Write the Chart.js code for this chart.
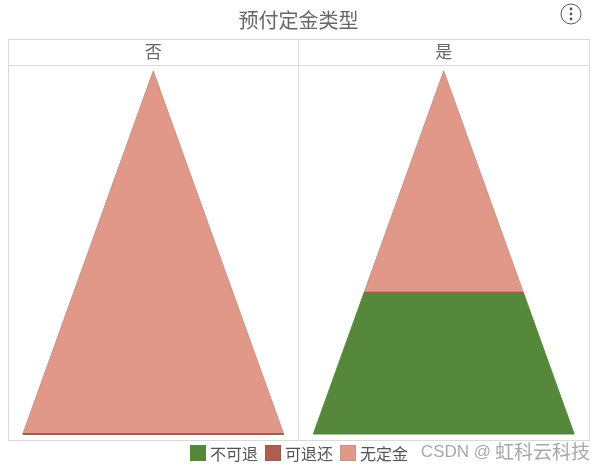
<!DOCTYPE html>
<html>
<head>
<meta charset="utf-8">
<title>预付定金类型</title>
<script src="https://cdn.jsdelivr.net/npm/chart.js@4"></script>
<style>
    html, body { margin: 0; padding: 0; background: #fff; }
    #wrap { position: relative; width: 606px; height: 470px; }
    canvas { display: block; }
    #legend {
        position: absolute; left: 190px; top: 445px; display: flex;
        font: 16px/16px "Noto Sans CJK SC", "Noto Sans", sans-serif; color: #555;
    }
    #legend span.item { display: flex; margin-right: 7px; }
    #legend i { display: block; box-sizing: border-box; width: 16px; height: 16px; margin-right: 4px; border: 1px solid; }
</style>
</head>
<body>
<div id="wrap">
    <canvas id="chart" width="606" height="470"></canvas>
    <div id="legend"></div>
</div>
<script>
// data, stacked from the base of each pyramid upwards
const panels = ['否', '是'];
const seriesNames = ['不可退', '可退还', '无定金'];
const noRefund = [0, 39];
const refundable = [0, 0];
const noDeposit = [100, 61];

const fillColors = ['#55883b', '#ae5e4d', '#e19888'];
const edgeColors = ['#55883b', '#a0584a', '#c4958a'];
const gridColor = '#d9d9d9';
const FONT = '"Noto Sans CJK SC", "Noto Sans", sans-serif';

const allSeries = [noRefund, refundable, noDeposit];
const halfBase = 0.449;

// one closed trapezoid per series per panel, narrowing with the running total
const datasets = [];
panels.forEach(function (panel, p) {
    let below = 0;
    allSeries.forEach(function (values, s) {
        const above = below + values[p];
        const center = p + 0.5;
        const wBottom = halfBase * (1 - below / 100);
        const wTop = halfBase * (1 - above / 100);
        datasets.push({
            label: seriesNames[s],
            data: [
                { x: center - wBottom, y: below },
                { x: center + wBottom, y: below },
                { x: center + wTop, y: above },
                { x: center - wTop, y: above },
                { x: center - wBottom, y: below }
            ],
            showLine: true,
            fill: 'shape',
            tension: 0,
            pointRadius: 0,
            borderWidth: 1,
            borderColor: edgeColors[s],
            backgroundColor: fillColors[s],
            order: s === 1 ? 0 : 1 // the flat 可退还 band stays visible on top
        });
        below = above;
    });
});

// html legend, the built-in one can't get the box and text this close
const legendDiv = document.getElementById('legend');
seriesNames.forEach(function (name, s) {
    const item = document.createElement('span');
    item.className = 'item';
    const box = document.createElement('i');
    box.style.background = fillColors[s];
    box.style.borderColor = edgeColors[s];
    item.appendChild(box);
    item.appendChild(document.createTextNode(name));
    legendDiv.appendChild(item);
});

// top edge of the header strip, the menu button and the watermark
const extras = {
    id: 'extras',
    afterDraw: function (chart) {
        const ctx = chart.ctx;
        const area = chart.chartArea;
        const top = chart.scales.x2.top;
        ctx.save();
        ctx.strokeStyle = gridColor;
        ctx.lineWidth = 1;
        ctx.beginPath();
        ctx.moveTo(area.left, top + 0.5);
        ctx.lineTo(area.right, top + 0.5);
        ctx.stroke();

        ctx.strokeStyle = '#555';
        ctx.beginPath();
        ctx.arc(571, 14, 10, 0, Math.PI * 2);
        ctx.stroke();
        ctx.fillStyle = '#555';
        [9, 14, 19].forEach(function (y) {
            ctx.beginPath();
            ctx.arc(571, y, 1.4, 0, Math.PI * 2);
            ctx.fill();
        });

        ctx.fillStyle = '#a8a8a8';
        ctx.textBaseline = 'middle';
        ctx.textAlign = 'right';
        ctx.font = '19px ' + FONT;
        ctx.fillText('虹科云科技', 590, 452);
        ctx.font = '17px "Liberation Sans", sans-serif';
        ctx.fillText('CSDN @', 491, 452);
        ctx.restore();
    }
};

new Chart(document.getElementById('chart'), {
    type: 'scatter',
    data: { datasets: datasets },
    plugins: [extras],
    options: {
        responsive: false,
        animation: false,
        devicePixelRatio: 1,
        layout: { padding: { left: 8, right: 17, top: 0, bottom: 30 } },
        plugins: {
            tooltip: { enabled: false },
            legend: { display: false },
            title: {
                display: true,
                text: '预付定金类型',
                color: '#666',
                font: { family: FONT, size: 20, weight: 'normal' },
                padding: { top: 8, bottom: 7 }
            }
        },
        scales: {
            x: {
                type: 'linear',
                min: 0,
                max: panels.length,
                ticks: { display: false, stepSize: 1 },
                grid: { color: gridColor, drawTicks: false },
                border: { color: gridColor }
            },
            x2: {
                type: 'category',
                labels: panels,
                position: 'top',
                offset: true,
                grid: { offset: true, color: gridColor, drawOnChartArea: false, tickLength: 26 },
                border: { color: gridColor },
                ticks: {
                    color: '#666',
                    font: { family: FONT, size: 17 },
                    padding: -23,
                    maxRotation: 0
                },
                afterFit: function (scale) { scale.height = 26; }
            },
            y: {
                display: false,
                min: -1.65,
                max: 101.65
            }
        }
    }
});
</script>
</body>
</html>
